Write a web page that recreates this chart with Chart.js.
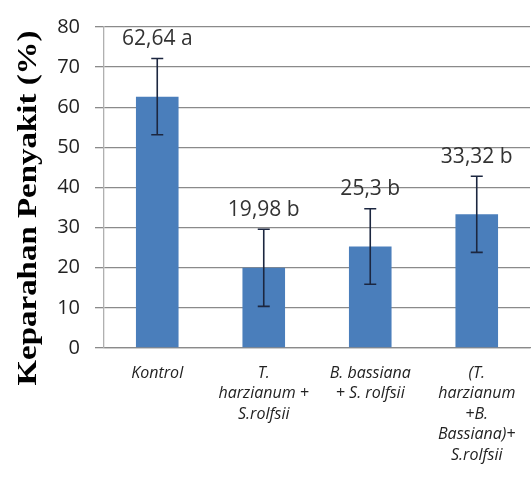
<!DOCTYPE html>
<html>
<head>
<meta charset="utf-8">
<script src="https://cdn.jsdelivr.net/npm/chart.js@4"></script>
<style>
  html, body { margin: 0; padding: 0; background: #fff; }
  #wrap { width: 531px; height: 486px; }
</style>
</head>
<body>
<div id="wrap"><canvas id="chart" width="531" height="486"></canvas></div>
<script>
/* ===== DATA ===== */
const categories = [
  ["Kontrol"],
  ["T.", "harzianum +", "S.rolfsii"],
  ["B. bassiana", "+ S. rolfsii"],
  ["(T.", "harzianum", "+B.", "Bassiana)+", "S.rolfsii"]
];
const severity = [62.64, 19.98, 25.3, 33.32];
const errors = [9.5, 9.6, 9.4, 9.5];
const letters = ["a", "b", "b", "b"];
const yTicks = [0, 10, 20, 30, 40, 50, 60, 70, 80];
const yTitle = "Keparahan Penyakit (%)";

/* ===== ERROR BARS + LABELS ===== */
const errorBars = {
  id: "errorBars",
  afterDatasetsDraw(chart) {
    const ctx = chart.ctx;
    const y = chart.scales.y;
    const meta = chart.getDatasetMeta(0);
    ctx.save();
    meta.data.forEach((bar, i) => {
      const top = y.getPixelForValue(severity[i] + errors[i]);
      const bot = y.getPixelForValue(severity[i] - errors[i]);
      ctx.strokeStyle = "#1c2740";
      ctx.lineWidth = 1.6;
      ctx.beginPath();
      ctx.moveTo(bar.x, top); ctx.lineTo(bar.x, bot);
      ctx.moveTo(bar.x - 6, top); ctx.lineTo(bar.x + 6, top);
      ctx.moveTo(bar.x - 6, bot); ctx.lineTo(bar.x + 6, bot);
      ctx.stroke();

      ctx.fillStyle = "#333";
      ctx.font = "21px 'Open Sans'";
      ctx.textAlign = "center";
      ctx.textBaseline = "bottom";
      const txt = String(severity[i]).replace(".", ",") + " " + letters[i];
      ctx.fillText(txt, bar.x, top - 9);
    });
    ctx.restore();
  }
};

/* ===== Y TITLE (sits a bit below the plot centre, like the original) ===== */
const sideTitle = {
  id: "sideTitle",
  afterDraw(chart) {
    const ctx = chart.ctx;
    ctx.save();
    ctx.translate(29, 208);
    ctx.rotate(-Math.PI / 2);
    ctx.scale(1.22, 1); // original text is drawn long and thin
    ctx.font = "bold 27px 'Liberation Serif'";
    ctx.fillStyle = "#000";
    ctx.textAlign = "center";
    ctx.textBaseline = "middle";
    ctx.fillText(yTitle, 0, 0);
    ctx.restore();
  }
};

new Chart(document.getElementById("chart"), {
  type: "bar",
  data: {
    labels: categories,
    datasets: [{
      data: severity,
      backgroundColor: "#4a7ebb",
      categoryPercentage: 1,
      barPercentage: 0.4
    }]
  },
  options: {
    responsive: false,
    animation: false,
    layout: { padding: { top: 11, right: 1, left: 0, bottom: 0 } },
    plugins: { legend: { display: false }, tooltip: { enabled: false } },
    scales: {
      x: {
        afterFit: s => { s.height = 138; },
        grid: { display: false },
        border: { display: true, color: "#8a8a8a", width: 1.3 },
        ticks: {
          color: "#222",
          padding: 7,
          maxRotation: 0,
          autoSkip: false,
          font: { family: "'Open Sans'", size: 16, style: "italic", lineHeight: 1.28 }
        }
      },
      y: {
        min: 0,
        max: 80,
        afterFit: s => { s.width = 104; },
        afterBuildTicks: s => { s.ticks = yTicks.map(v => ({ value: v })); },
        grid: { color: "#8a8a8a", lineWidth: 1.3, tickLength: 9 },
        border: { display: true, color: "#b0b0b0", width: 1.3 },
        ticks: {
          color: "#222",
          padding: 15,
          font: { family: "'Open Sans'", size: 20 }
        }
      }
    }
  },
  plugins: [errorBars, sideTitle]
});
</script>
</body>
</html>
